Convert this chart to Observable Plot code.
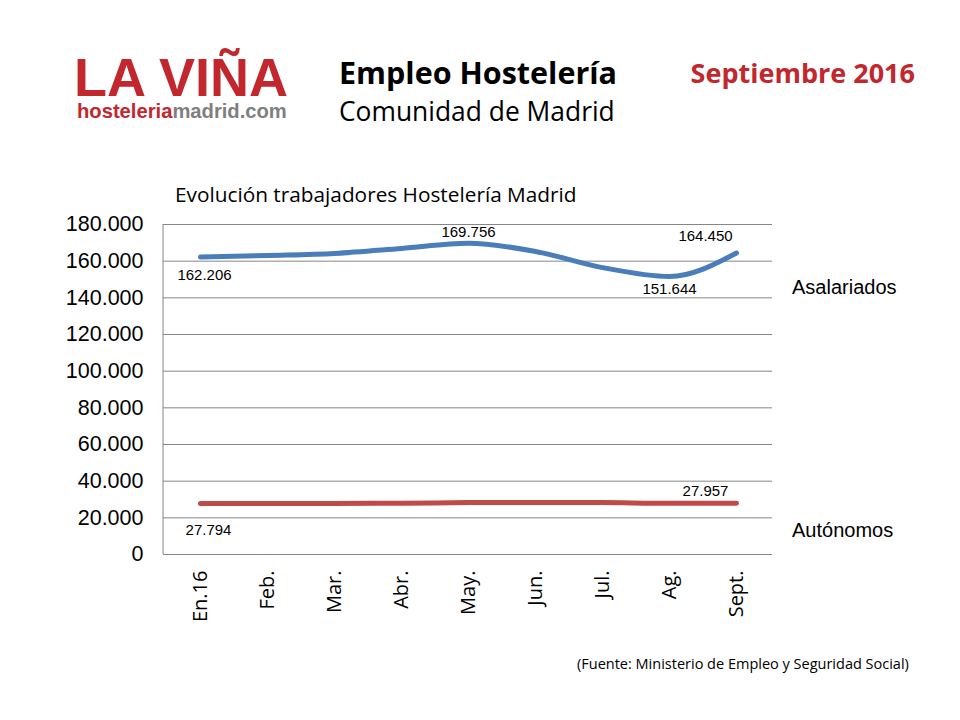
<!DOCTYPE html>
<html><head><meta charset="utf-8">
<script src="https://cdn.jsdelivr.net/npm/d3@7"></script>
<script src="https://cdn.jsdelivr.net/npm/@observablehq/plot@0.6"></script>
<style>
body{margin:0;background:#fff;}
#wrap{position:relative;width:960px;height:720px;overflow:hidden;background:#fff;}
#wrap svg{position:absolute;left:0;top:0;}
.t{position:absolute;line-height:1;white-space:nowrap;}
</style></head>
<body><div id="wrap">
<div class="t" style="left:74px;top:46px;font:bold 54px 'Liberation Sans',Arial;color:#c1272d;">LA VIÑA</div>
<div class="t" style="left:77px;top:100px;font:bold 20.2px 'Liberation Sans',Arial;"><span style="color:#c1272d">hosteleria</span><span style="color:#7f7f7f">madrid.com</span></div>
<div class="t" style="left:339px;top:51px;font:bold 30.5px 'Open Sans';color:#000;">Empleo Hostelería</div>
<div class="t" style="left:339px;top:93px;font:26.4px 'Open Sans';color:#000;">Comunidad de Madrid</div>
<div class="t" style="right:45px;top:54px;font:bold 27px 'Open Sans';color:#c1272d;">Septiembre 2016</div>
<div class="t" style="left:175px;top:180px;font:20.8px 'Open Sans';color:#000;">Evolución trabajadores Hostelería Madrid</div>
<div class="t" style="left:792px;top:276px;font:20px 'Liberation Sans',Arial;color:#000;">Asalariados</div>
<div class="t" style="left:792px;top:519px;font:20px 'Liberation Sans',Arial;color:#000;">Autónomos</div>
<div class="t" style="left:577px;top:654px;font:14.5px 'Open Sans';color:#000;">(Fuente: Ministerio de Empleo y Seguridad Social)</div>
</div>
<script>
const months = ["En.16","Feb.","Mar.","Abr.","May.","Jun.","Jul.","Ag.","Sept."];
const asalariados = [162206,163100,164200,166900,169756,165300,156500,151644,164450];
const autonomos = [27794,27800,27850,27950,28300,28400,28300,27900,27957];
const yTicks = [0,20000,40000,60000,80000,100000,120000,140000,160000,180000];

const fmt = v => v === 0 ? "0" : d3.format(",")(v).replace(/,/g, ".");
const asal = months.map((m,i) => ({month:m, value:asalariados[i]}));
const auto = months.map((m,i) => ({month:m, value:autonomos[i]}));
const pick = (arr, m) => arr.filter(d => d.month === m);

const labelStyle = {x:"month", y:"value", text: d => fmt(d.value), fontFamily:"'Liberation Sans', Arial", fontSize:15, fill:"#000"};

const leftLine = (index, scales, values, dim) => {
  const ns = "http://www.w3.org/2000/svg";
  const l = document.createElementNS(ns, "line");
  l.setAttribute("x1", dim.marginLeft); l.setAttribute("x2", dim.marginLeft);
  l.setAttribute("y1", dim.marginTop); l.setAttribute("y2", dim.height - dim.marginBottom);
  l.setAttribute("stroke", "#868686"); l.setAttribute("stroke-width", 1);
  return l;
};

const chart = Plot.plot({
  width: 960, height: 720,
  marginLeft: 163, marginRight: 188, marginTop: 224, marginBottom: 166,
  style: {fontFamily: "'Liberation Sans', Arial", fontSize: "21px", background: "transparent", color: "#000"},
  x: {type: "point", domain: months, padding: 0.5},
  y: {domain: [0, 180000]},
  marks: [
    Plot.gridY(yTicks, {stroke: "#868686", strokeOpacity: 1, strokeWidth: 1}),
    leftLine,
    Plot.axisY(yTicks, {tickSize: 0, tickPadding: 20, tickFormat: fmt, label: null, fontSize: 21.5, fontFamily: "'Liberation Sans', Arial"}),
    Plot.axisX({tickSize: 0, tickRotate: -90, tickPadding: 16, label: null, fontSize: 20, fontFamily: "'Open Sans'"}),
    Plot.line(asal, {x: "month", y: "value", stroke: "#4a7ebb", strokeWidth: 5, curve: "monotone-x"}),
    Plot.line(auto, {x: "month", y: "value", stroke: "#be4b48", strokeWidth: 5, curve: "monotone-x"}),
    Plot.text(pick(asal, "En.16"), {...labelStyle, dx: 4, dy: 18}),
    Plot.text(pick(asal, "May."), {...labelStyle, dy: -11}),
    Plot.text(pick(asal, "Ag."), {...labelStyle, dy: 13}),
    Plot.text(pick(asal, "Sept."), {...labelStyle, dx: -31, dy: -17}),
    Plot.text(pick(auto, "En.16"), {...labelStyle, dx: 8, dy: 27}),
    Plot.text(pick(auto, "Sept."), {...labelStyle, dx: -31, dy: -12})
  ]
});
document.getElementById("wrap").prepend(chart);
</script>
</body></html>
